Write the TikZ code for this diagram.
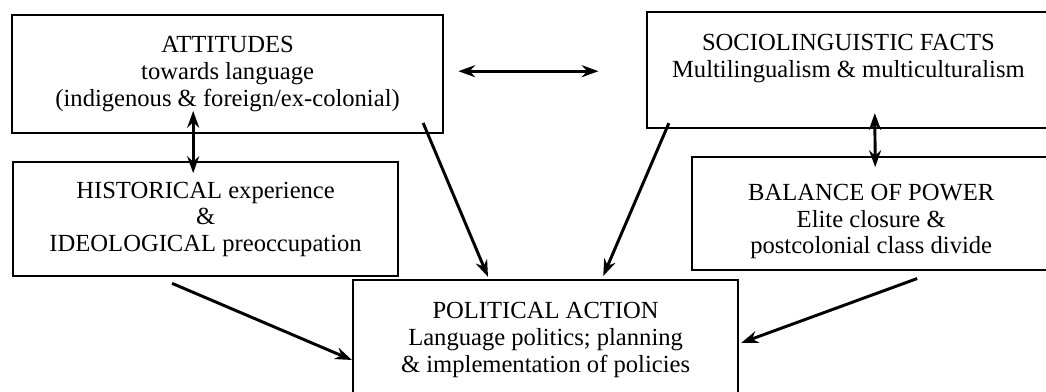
\documentclass[tikz,border=0pt]{standalone}
\usepackage{fontspec}
\setmainfont{Liberation Serif}
\usepackage{tikz}
\usetikzlibrary{arrows.meta,calc}

\begin{document}
\begin{tikzpicture}[
    box/.style={draw, line width=1.6pt, align=center, font=\fontsize{17.5}{19}\selectfont},
    link/.style={line width=2.1pt, -{Stealth[length=4.2mm,width=3mm]}},
    dbl/.style={line width=2.1pt, {Stealth[length=4.2mm,width=3mm]}-{Stealth[length=4.2mm,width=3mm]}}]
                \useasboundingbox (0,0) rectangle (26.15,-9.775);
                \clip (0,0) rectangle (26.15,-9.775);
                % Boxes
                \node[box, minimum width=10.78cm, minimum height=2.95cm] (att) at (5.69,-1.85)
                    {ATTITUDES\\towards language\\(indigenous \& foreign/ex-colonial)};
                \node[box, minimum width=9.63cm, minimum height=2.85cm] (hist) at (5.14,-5.48)
                    {HISTORICAL experience\\\&\\IDEOLOGICAL preoccupation};
                \node[box, minimum width=10.08cm, minimum height=2.9cm, text depth=20pt] (socio) at (21.21,-1.75)
                    {SOCIOLINGUISTIC FACTS\\Multilingualism \& multiculturalism};
                \node[box, minimum width=8.95cm, minimum height=2.83cm, text height=61pt] (bal) at (21.78,-5.34)
                    {BALANCE OF POWER\\Elite closure \&\\postcolonial class divide};
                \node[box, minimum width=9.63cm, minimum height=3.0cm] (pol) at (13.64,-8.5)
                    {POLITICAL ACTION\\Language politics; planning\\\& implementation of policies};
                
                % Arrows
                \draw[dbl] ($(att.east)+(0.35,0.07)$) -- ($(socio.west)+(-1.18,-0.03)$);
                \draw[dbl] ($(att.south)+(-0.86,0.58)$) -- ($(hist.north)+(-0.31,-0.3)$);
                \draw[dbl] ($(socio.south)+(0.66,0.4)$) -- ($(bal.north)+(0.1,-0.28)$);
                \draw[link] ($(att.south east)+(-0.53,0.28)$) -- ($(pol.north)+(-1.44,0.05)$);
                \draw[link] ($(socio.south west)+(0.58,0.15)$) -- ($(pol.north)+(1.44,0.07)$);
                \draw[link] ($(hist.south)+(-0.84,-0.15)$) -- ($(pol.west)+(0,-0.5)$);
                \draw[link] ($(bal.south)+(1.15,-0.18)$) -- ($(pol.east)+(0.05,-0.07)$);
            \end{tikzpicture}
\end{document}
